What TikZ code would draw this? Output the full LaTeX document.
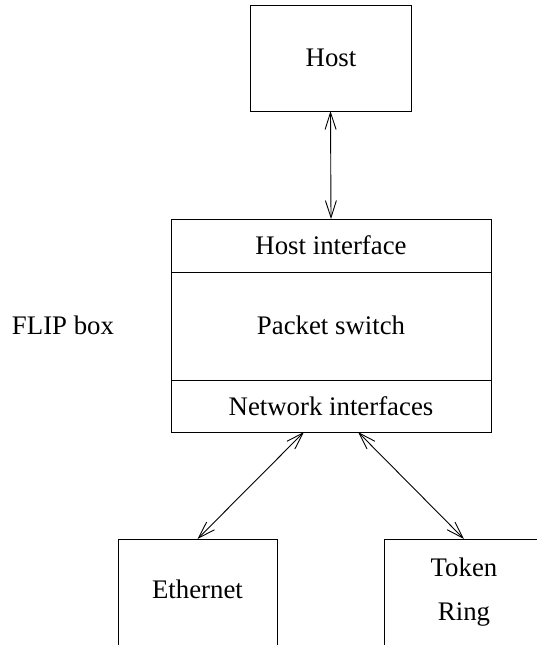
\documentclass[tikz,border=0pt]{standalone}
\usepackage{fontspec}
\setmainfont{Liberation Serif}
\usetikzlibrary{arrows.meta,calc}
\begin{document}
\begin{tikzpicture}[x=1pt,y=-1pt,
  every node/.style={font=\fontsize{26.8}{30}\selectfont, inner sep=0pt, outer sep=0pt},
  boxed/.style={draw, line width=1pt, rectangle, anchor=north west},
  link/.style={line width=0.9pt, {Straight Barb[length=17pt,width=11pt]}-{Straight Barb[length=17pt,width=11pt]}},
  label/.style={}]
\useasboundingbox (0,0) rectangle (537,645);
\clip (0,0) rectangle (537,645);
% Host
\node[boxed, minimum width=161pt, minimum height=106pt] (host) at (250,5) {};
\node[label] (hostt) at (331,58) {Host};
% FLIP box sections
\node[boxed, minimum width=320pt, minimum height=53pt] (hostif) at (171,219) {};
\node[boxed, minimum width=320pt, minimum height=108pt] (switch) at (171,272) {};
\node[boxed, minimum width=320pt, minimum height=52pt] (netif) at (171,380) {};
\node[label] (hostift) at (hostif.center) {Host interface};
\node[label] (switcht) at (331,325) {Packet switch};
\node[label] (netift) at (netif.center) {Network interfaces};
\node[label] (flip) at (63,325) {FLIP box};
% Networks (cut by the lower edge)
\node[boxed, minimum width=159pt, minimum height=160pt] (eth) at (118,539) {};
\node[boxed, minimum width=160pt, minimum height=160pt] (tok) at (384,539) {};
\node[label] (etht) at (197.5,589) {Ethernet};
\node[label, align=center] (tokt) at (464,592) {Token\\[14pt]Ring};
% Connectors
\coordinate (netl) at ($(netif.south)+(-27,0)$);
\coordinate (netr) at ($(netif.south)+(27,0)$);
\draw[link] (host.south) -- (hostif.north);
\draw[link] (netl) -- (eth.north);
\draw[link] (netr) -- (tok.north);
\end{tikzpicture}
\end{document}
